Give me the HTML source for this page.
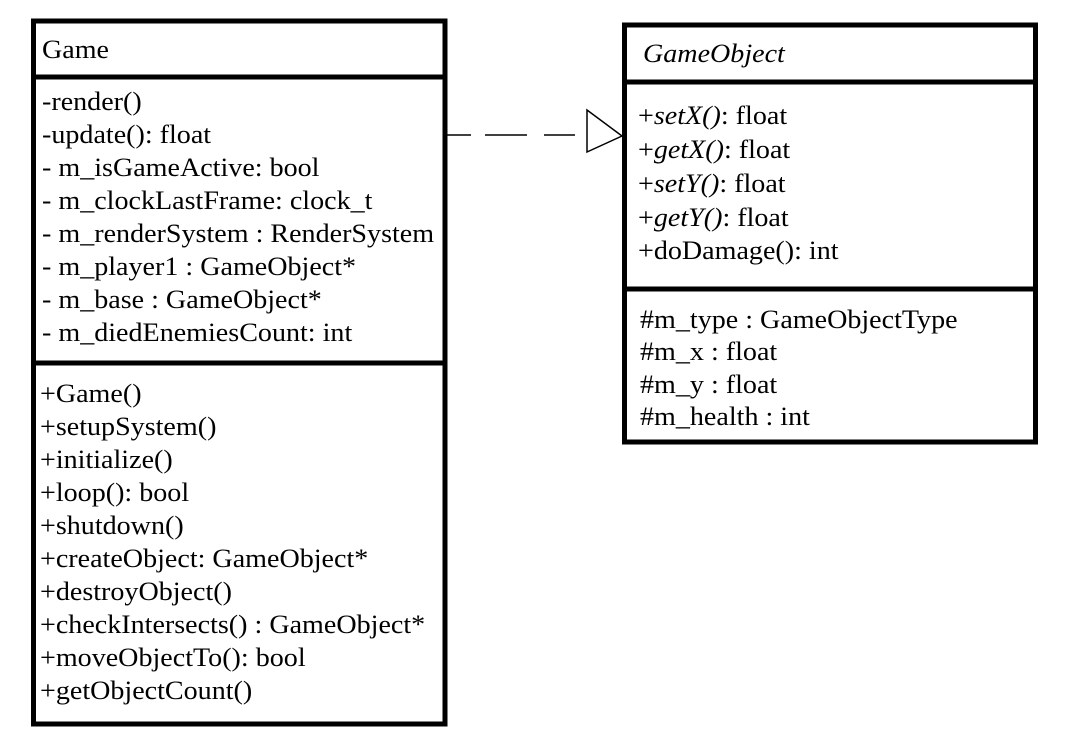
<!DOCTYPE html>
<html><head><meta charset="utf-8"><style>
html,body{margin:0;padding:0;background:#fff;}
svg{display:block;}
text{font-family:"Liberation Serif",serif;font-size:26px;fill:#000;}
</style></head><body>
<svg width="1084" height="754" viewBox="0 0 1084 754">
<rect width="1084" height="754" fill="#fff"/>
<rect x="33.5" y="21" width="411.5" height="703" fill="none" stroke="#000" stroke-width="5"/>
<line x1="33" y1="77" x2="445" y2="77" stroke="#000" stroke-width="5"/>
<line x1="33" y1="363" x2="445" y2="363" stroke="#000" stroke-width="5"/>
<g transform="translate(42,0) scale(1.08,1)">
<text x="0" y="58">Game</text>
<text x="0" y="110">-render()</text>
<text x="0" y="143">-update(): float</text>
<text x="0" y="176">- m_isGameActive: bool</text>
<text x="0" y="209">- m_clockLastFrame: clock_t</text>
<text x="0" y="242">- m_renderSystem : RenderSystem</text>
<text x="0" y="275">- m_player1 : GameObject*</text>
<text x="0" y="308">- m_base : GameObject*</text>
<text x="0" y="341">- m_diedEnemiesCount: int</text>
</g>
<g transform="translate(40,0) scale(1.08,1)">
<text x="0" y="402">+Game()</text>
<text x="0" y="435">+setupSystem()</text>
<text x="0" y="468">+initialize()</text>
<text x="0" y="501">+loop(): bool</text>
<text x="0" y="534">+shutdown()</text>
<text x="0" y="567">+createObject: GameObject*</text>
<text x="0" y="600">+destroyObject()</text>
<text x="0" y="633">+checkIntersects() : GameObject*</text>
<text x="0" y="666">+moveObjectTo(): bool</text>
<text x="0" y="699">+getObjectCount()</text>
</g>
<rect x="624.5" y="25" width="411" height="417" fill="none" stroke="#000" stroke-width="5"/>
<line x1="624" y1="82" x2="1036" y2="82" stroke="#000" stroke-width="5"/>
<line x1="624" y1="289" x2="1036" y2="289" stroke="#000" stroke-width="5"/>
<g transform="translate(643,0) scale(1.08,1)">
<text x="0" y="62" font-style="italic">GameObject</text>
</g>
<g transform="translate(638,0) scale(1.08,1)">
<text x="0" y="124">+<tspan font-style="italic">setX()</tspan>: float</text>
<text x="0" y="158">+<tspan font-style="italic">getX()</tspan>: float</text>
<text x="0" y="192">+<tspan font-style="italic">setY()</tspan>: float</text>
<text x="0" y="226">+<tspan font-style="italic">getY()</tspan>: float</text>
<text x="0" y="259">+doDamage(): int</text>
</g>
<g transform="translate(640,0) scale(1.08,1)">
<text x="0" y="328">#m_type : GameObjectType</text>
<text x="0" y="360">#m_x : float</text>
<text x="0" y="393">#m_y : float</text>
<text x="0" y="425">#m_health : int</text>
</g>
<line x1="447" y1="135" x2="471" y2="135" stroke="#000" stroke-width="1.5"/>
<line x1="485" y1="135" x2="527" y2="135" stroke="#000" stroke-width="1.5"/>
<line x1="544" y1="135" x2="575" y2="135" stroke="#000" stroke-width="1.5"/>
<polygon points="587,110 622,136 587,152" fill="#fff" stroke="#000" stroke-width="1.5"/>
</svg>
</body></html>
